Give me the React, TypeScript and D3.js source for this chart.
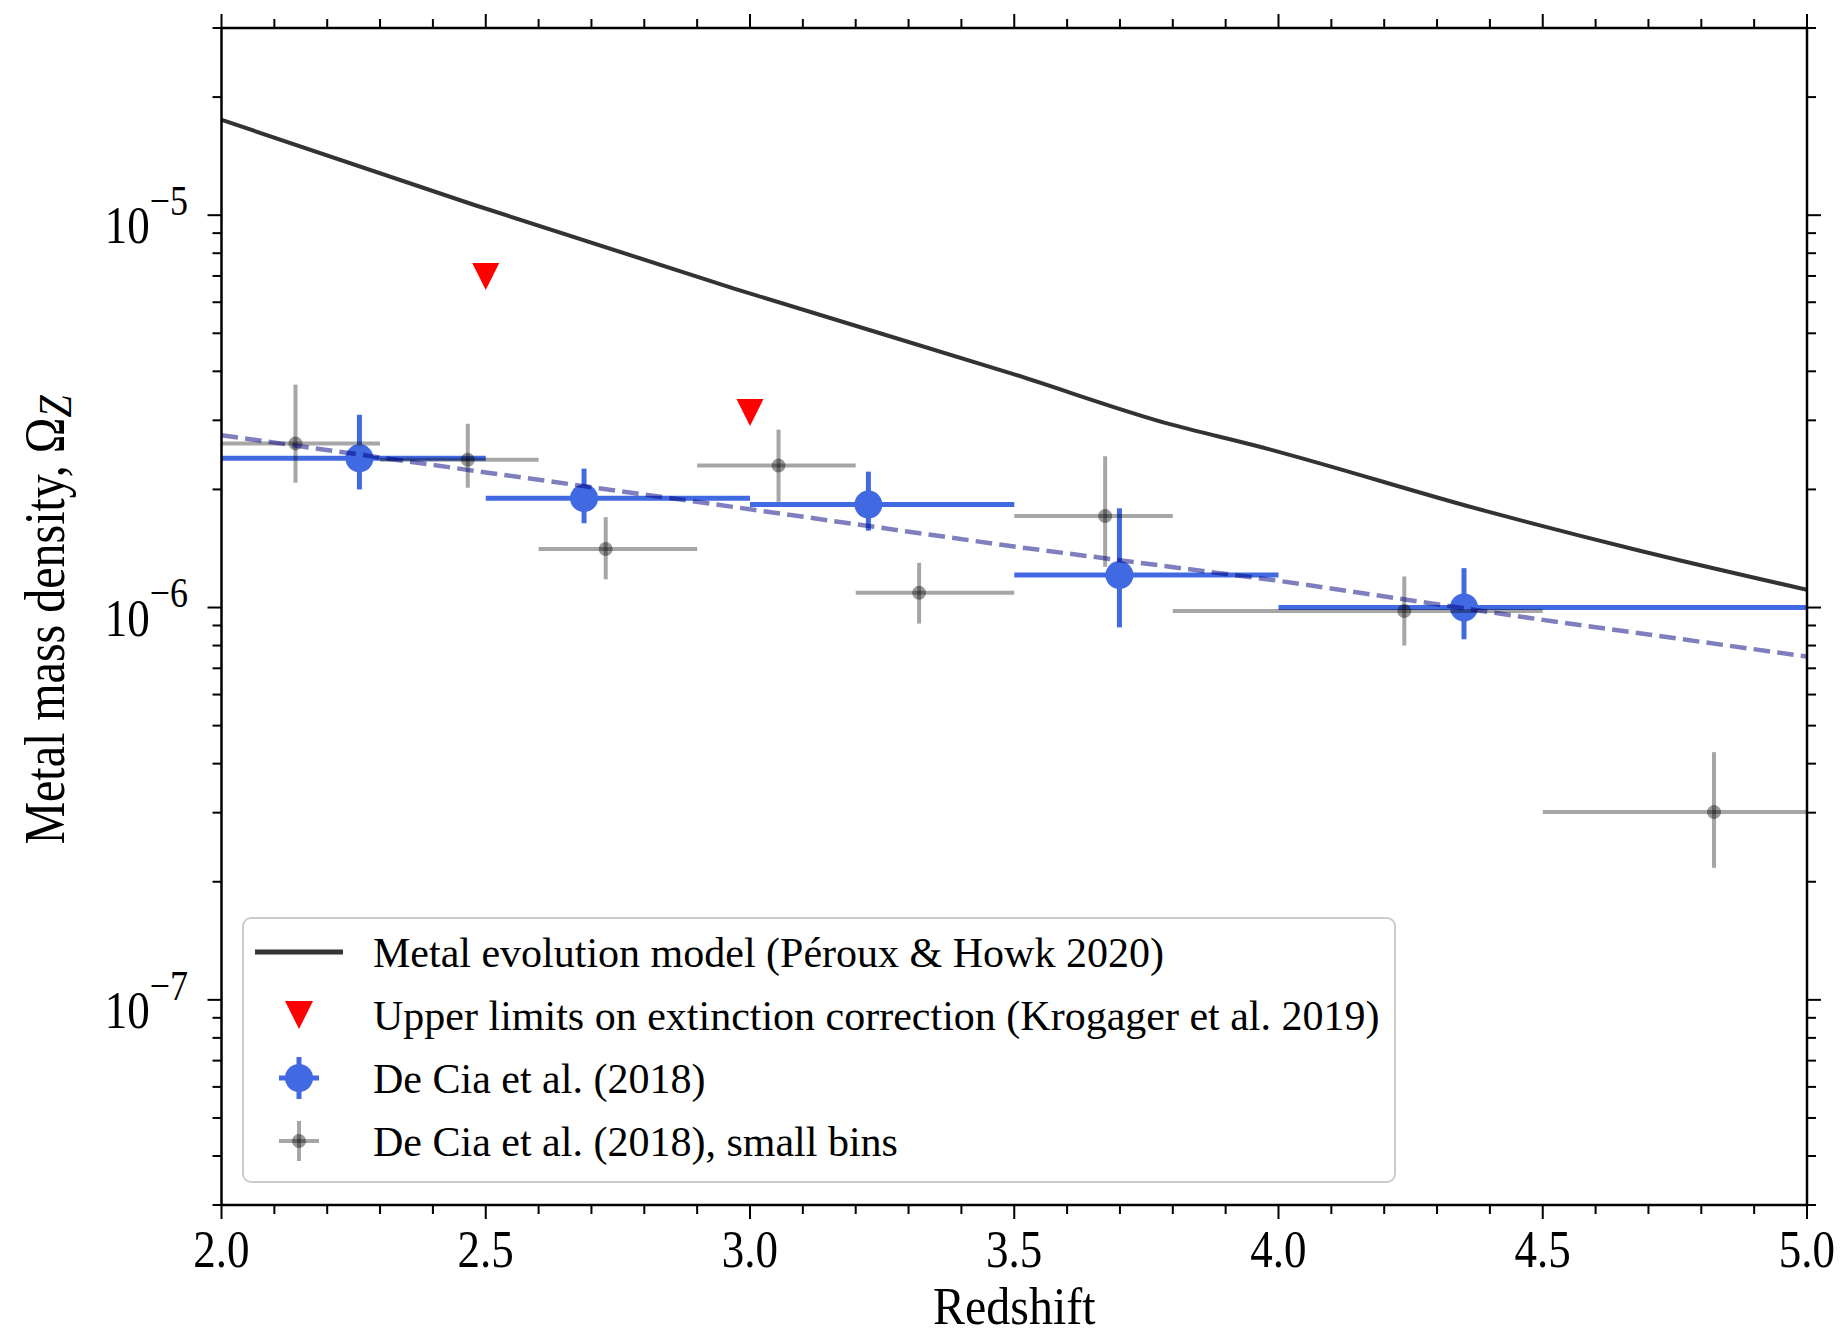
import React from "react";
import * as d3 from "d3";

// ---------- data ----------
const modelZ = [2.0, 2.48, 2.97, 3.5, 3.8, 3.95, 4.4, 4.68, 5.0];
const modelOmega = [1.75e-5, 1.06e-5, 6.5e-6, 3.93e-6, 2.92e-6, 2.6e-6, 1.75e-6, 1.4e-6, 1.11e-6];

const fitZ = [2.0, 2.5, 3.0, 3.5, 4.0, 4.5, 5.0];
const fitOmega = [2.75e-6, 2.21e-6, 1.78e-6, 1.43e-6, 1.17e-6, 9.3e-7, 7.5e-7];

const limZ = [2.5, 3.0];
const limOmega = [6.98e-6, 3.14e-6];

const bigZ = [2.261, 2.686, 3.224, 3.699, 4.351];
const bigZLo = [2.0, 2.5, 3.0, 3.5, 4.0];
const bigZHi = [2.5, 3.0, 3.5, 4.0, 5.0];
const bigOmega = [2.4e-6, 1.9e-6, 1.83e-6, 1.21e-6, 1.0e-6];
const bigOmegaLo = [2.0e-6, 1.64e-6, 1.57e-6, 8.9e-7, 8.3e-7];
const bigOmegaHi = [3.1e-6, 2.26e-6, 2.22e-6, 1.79e-6, 1.26e-6];

const smallZ = [2.14, 2.466, 2.727, 3.054, 3.32, 3.672, 4.238, 4.824];
const smallZLo = [2.0, 2.3, 2.6, 2.9, 3.2, 3.5, 3.8, 4.5];
const smallZHi = [2.3, 2.6, 2.9, 3.2, 3.5, 3.8, 4.5, 5.0];
const smallOmega = [2.62e-6, 2.38e-6, 1.41e-6, 2.3e-6, 1.09e-6, 1.71e-6, 9.8e-7, 3.01e-7];
const smallOmegaLo = [2.08e-6, 2.02e-6, 1.18e-6, 1.86e-6, 9.1e-7, 1.27e-6, 8.0e-7, 2.17e-7];
const smallOmegaHi = [3.7e-6, 2.94e-6, 1.7e-6, 2.84e-6, 1.3e-6, 2.43e-6, 1.2e-6, 4.28e-7];

const xMajorTicks = [2.0, 2.5, 3.0, 3.5, 4.0, 4.5, 5.0];
const xTickLabels = ["2.0", "2.5", "3.0", "3.5", "4.0", "4.5", "5.0"];
const yMajorExp = [-7, -6, -5];

const legendLabels = [
  "Metal evolution model (Péroux & Howk 2020)",
  "Upper limits on extinction correction (Krogager et al. 2019)",
  "De Cia et al. (2018)",
  "De Cia et al. (2018), small bins",
];

// ---------- layout ----------
const W = 1841;
const H = 1338;
const L = 221.5;
const R = 1807;
const T = 28;
const B = 1205;
const FONT = "'Liberation Serif', 'Times New Roman', serif";
const BLUE = "#4169e1";
const STRETCH = 1.17;

export default function App() {
  const x = d3.scaleLinear().domain([2, 5]).range([L, R]);
  const y = d3.scaleLog().domain([3e-8, 3e-5]).range([B, T]);

  const modelLine = d3
    .line<number>()
    .x((_, i) => x(modelZ[i]))
    .y((d) => y(d))
    .curve(d3.curveMonotoneX)(modelOmega) as string;
  const fitLine = d3
    .line<number>()
    .x((_, i) => x(fitZ[i]))
    .y((d) => y(d))(fitOmega) as string;

  const xMinor = d3.range(20, 51).map((v) => v / 10).filter((v) => Math.round(v * 10) % 5 !== 0);
  const yMinor: number[] = [];
  for (let e = -8; e <= -5; e++) {
    for (let k = 2; k <= 9; k++) {
      const v = k * Math.pow(10, e);
      if (v >= 3e-8 * 0.999 && v <= 3e-5 * 1.001) yMinor.push(v);
    }
  }

  const MAJ = 14;
  const MIN = 9;
  const tickStyle = { stroke: "#000", strokeWidth: 2 };

  const tri = (cx: number, cy: number, s: number) =>
    `M${cx - s},${cy - s}L${cx + s},${cy - s}L${cx},${cy + s}Z`;

  const legendRows = [952, 1015, 1078, 1141];
  const hx = 299;

  return (
    <div style={{ position: "absolute", left: 0, top: 0 }}>
      <svg width={W} height={H} style={{ display: "block", background: "#fff" }} fontFamily={FONT}>
        <rect x={0} y={0} width={W} height={H} fill="#fff" />
        <defs>
          <clipPath id="plotclip">
            <rect x={L} y={T} width={R - L} height={B - T} />
          </clipPath>
        </defs>

        <g clipPath="url(#plotclip)">
          {/* model line */}
          <path d={modelLine} fill="none" stroke="#333" strokeWidth={4} strokeLinejoin="round" />
          {/* upper limits */}
          {limZ.map((z, i) => (
            <path key={"lim" + i} d={tri(x(z), y(limOmega[i]), 13.5)} fill="#ff0000" />
          ))}
          {/* big bins */}
          {bigZ.map((z, i) => (
            <g key={"big" + i}>
              <line x1={x(bigZLo[i])} x2={x(bigZHi[i])} y1={y(bigOmega[i])} y2={y(bigOmega[i])} stroke={BLUE} strokeWidth={5} />
              <line x1={x(z)} x2={x(z)} y1={y(bigOmegaLo[i])} y2={y(bigOmegaHi[i])} stroke={BLUE} strokeWidth={5} />
              <circle cx={x(z)} cy={y(bigOmega[i])} r={14} fill={BLUE} />
            </g>
          ))}
          {/* small bins */}
          {smallZ.map((z, i) => (
            <g key={"small" + i}>
              <line x1={x(smallZLo[i])} x2={x(smallZHi[i])} y1={y(smallOmega[i])} y2={y(smallOmega[i])} stroke="#000" strokeOpacity={0.35} strokeWidth={4} />
              <line x1={x(z)} x2={x(z)} y1={y(smallOmegaLo[i])} y2={y(smallOmegaHi[i])} stroke="#000" strokeOpacity={0.35} strokeWidth={4} />
              <circle cx={x(z)} cy={y(smallOmega[i])} r={7} fill="#000" fillOpacity={0.4} />
            </g>
          ))}
          {/* fit */}
          <path d={fitLine} fill="none" stroke="#000080" strokeOpacity={0.5} strokeWidth={4.5} strokeDasharray="16.6,7.2" />
        </g>

        {/* spines */}
        <rect x={L} y={T} width={R - L} height={B - T} fill="none" stroke="#000" strokeWidth={2.5} />

        {/* x ticks */}
        {xMajorTicks.map((v) => (
          <g key={"xt" + v}>
            <line x1={x(v)} x2={x(v)} y1={B} y2={B + MAJ} {...tickStyle} />
            <line x1={x(v)} x2={x(v)} y1={T} y2={T - MAJ} {...tickStyle} />
          </g>
        ))}
        {xMinor.map((v) => (
          <g key={"xm" + v}>
            <line x1={x(v)} x2={x(v)} y1={B} y2={B + MIN} {...tickStyle} />
            <line x1={x(v)} x2={x(v)} y1={T} y2={T - MIN} {...tickStyle} />
          </g>
        ))}
        {xMajorTicks.map((v, i) => (
          <text
            key={"xl" + v}
            transform={`translate(${x(v)},1267) scale(1,${STRETCH})`}
            textAnchor="middle"
            fontSize={45}
            fill="#000"
          >
            {xTickLabels[i]}
          </text>
        ))}

        {/* y ticks */}
        {yMajorExp.map((e) => {
          const yy = y(Math.pow(10, e));
          return (
            <g key={"yt" + e}>
              <line x1={L} x2={L - MAJ} y1={yy} y2={yy} {...tickStyle} />
              <line x1={R} x2={R + MAJ} y1={yy} y2={yy} {...tickStyle} />
              <text transform={`translate(188,${yy + 28}) scale(1,${STRETCH})`} textAnchor="end" fontSize={45} fill="#000">
                <tspan>10</tspan>
                <tspan fontSize={36} dy={-24}>{"\u2212" + Math.abs(e)}</tspan>
              </text>
            </g>
          );
        })}
        {yMinor.map((v, i) => (
          <g key={"ym" + i}>
            <line x1={L} x2={L - MIN} y1={y(v)} y2={y(v)} {...tickStyle} />
            <line x1={R} x2={R + MIN} y1={y(v)} y2={y(v)} {...tickStyle} />
          </g>
        ))}

        {/* axis labels */}
        <text transform={`translate(${(L + R) / 2},1324) scale(1,1.12)`} textAnchor="middle" fontSize={48} fill="#000">
          Redshift
        </text>
        <text transform={`translate(64,620) rotate(-90) scale(1,${STRETCH})`} textAnchor="middle" fontSize={48} fill="#000">
          <tspan>Metal mass density, Ω</tspan>
          <tspan fontStyle="italic" fontSize={40} dy={6}>Z</tspan>
        </text>

        {/* legend */}
        <rect x={243} y={918} width={1152} height={264} rx={8} ry={8} fill="#fff" fillOpacity={0.8} stroke="#cccccc" strokeWidth={2} />
        <line x1={255} x2={343} y1={legendRows[0]} y2={legendRows[0]} stroke="#333" strokeWidth={5} />
        <path d={tri(hx, legendRows[1], 14)} fill="#ff0000" />
        <line x1={hx - 20} x2={hx + 20} y1={legendRows[2]} y2={legendRows[2]} stroke={BLUE} strokeWidth={5} />
        <line x1={hx} x2={hx} y1={legendRows[2] - 21} y2={legendRows[2] + 21} stroke={BLUE} strokeWidth={5} />
        <circle cx={hx} cy={legendRows[2]} r={14} fill={BLUE} />
        <line x1={hx - 20} x2={hx + 20} y1={legendRows[3]} y2={legendRows[3]} stroke="#000" strokeOpacity={0.35} strokeWidth={4} />
        <line x1={hx} x2={hx} y1={legendRows[3] - 20} y2={legendRows[3] + 20} stroke="#000" strokeOpacity={0.35} strokeWidth={4} />
        <circle cx={hx} cy={legendRows[3]} r={7} fill="#000" fillOpacity={0.4} />
        {legendLabels.map((t, i) => (
          <text key={"lg" + i} x={373} y={legendRows[i] + 15} fontSize={42} fill="#000">
            {t}
          </text>
        ))}
      </svg>
    </div>
  );
}
